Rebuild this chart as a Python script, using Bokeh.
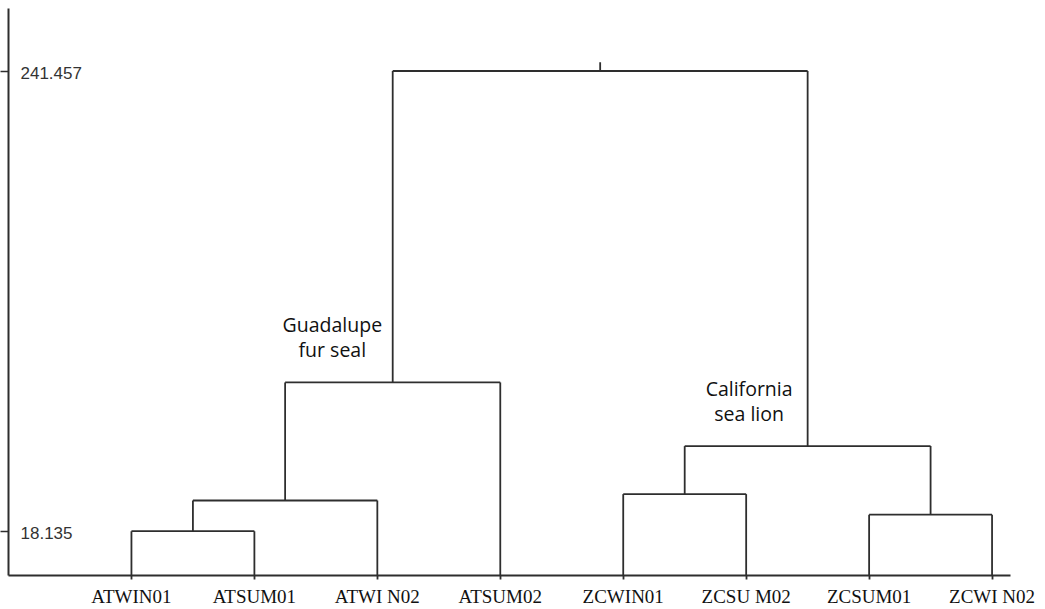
from bokeh.plotting import figure
from bokeh.models import Range1d, FixedTicker
from bokeh.core.properties import value
from bokeh.embed import file_html
from bokeh.resources import INLINE

# ---- data ----
leaves = ["ATWIN01", "ATSUM01", "ATWI N02", "ATSUM02",
          "ZCWIN01", "ZCSU M02", "ZCSUM01", "ZCWI N02"]
leaf_pos = [1, 2, 3, 4, 5, 6, 7, 8]
# merges: node ids 0..7 are leaves, 8.. are merge nodes in order
merge_left = [0, 8, 9, 4, 6, 11, 10]
merge_right = [1, 2, 3, 5, 7, 12, 13]
merge_height = [18.135, 33.0, 90.3, 36.1, 26.1, 59.4, 241.457]
ytick_values = [18.135, 241.457]
ytick_labels = ["18.135", "241.457"]
group_lines = [["Guadalupe", "fur seal"], ["California", "sea lion"]]
group_x = [2.634, 6.024]
group_y = [[118.4, 106.3], [87.4, 75.2]]

# ---- style ----
Y0, Y1 = -3.4, 271.8
X0, X1 = 0.0, 8.15
LINE = "#2e2e2e"
ROOT_STEM = 4.3

p = figure(width=1045, height=609, output_backend="svg", toolbar_location=None,
           x_range=Range1d(X0, X1), y_range=Range1d(Y0, Y1),
           min_border_left=0, min_border_top=8, min_border_right=35,
           min_border_bottom=34)
p.outline_line_color = None
p.grid.visible = False
p.background_fill_color = "white"
p.border_fill_color = "white"

# positions / heights of all nodes
node_x = list(leaf_pos)
node_h = [Y0] * len(leaf_pos)
x0s, y0s, x1s, y1s = [], [], [], []
for l, r, h in zip(merge_left, merge_right, merge_height):
    xl, xr = node_x[l], node_x[r]
    x0s += [xl, xr, xl]
    y0s += [node_h[l], node_h[r], h]
    x1s += [xl, xr, xr]
    y1s += [h, h, h]
    node_x.append((xl + xr) / 2)
    node_h.append(h)
# root stem
x0s.append(node_x[-1]); y0s.append(node_h[-1])
x1s.append(node_x[-1]); y1s.append(node_h[-1] + ROOT_STEM)

p.segment(x0=x0s, y0=y0s, x1=x1s, y1=y1s, line_color=LINE, line_width=1.8)

# y axis: line + outward ticks, labels drawn inside the frame
yax = p.yaxis[0]
yax.ticker = FixedTicker(ticks=ytick_values)
yax.minor_tick_line_color = None
yax.major_tick_in = 0
yax.major_tick_out = 8
yax.major_tick_line_color = LINE
yax.major_tick_line_width = 1.5
yax.axis_line_color = LINE
yax.axis_line_width = 2
yax.major_label_standoff = 0
yax.major_label_text_font_size = "0px"
yax.major_label_overrides = {v: "" for v in ytick_values}

p.text(x=[X0] * len(ytick_values), y=ytick_values, text=ytick_labels,
       x_offset=12, y_offset=2, text_baseline="middle", text_align="left",
       text_font=value("Liberation Sans"), text_font_size="17px", text_color="#333333")

# x axis
ax = p.xaxis[0]
ax.ticker = FixedTicker(ticks=leaf_pos)
ax.major_label_overrides = {pos: lab for pos, lab in zip(leaf_pos, leaves)}
ax.minor_tick_line_color = None
ax.major_tick_in = 0
ax.major_tick_out = 4
ax.major_tick_line_color = LINE
ax.major_tick_line_width = 1.8
ax.axis_line_color = LINE
ax.axis_line_width = 1.8
ax.major_label_standoff = 6
ax.major_label_text_font = "Liberation Serif"
ax.major_label_text_font_size = "19px"
ax.major_label_text_color = "#111111"

# group annotations
for lines, gx, gys in zip(group_lines, group_x, group_y):
    p.text(x=[gx] * len(lines), y=gys, text=lines, text_align="center",
           text_baseline="alphabetic", text_font=value("Open Sans"),
           text_font_size="19.5px", text_color="#111111")

open("out.html", "w").write(file_html(p, INLINE))
